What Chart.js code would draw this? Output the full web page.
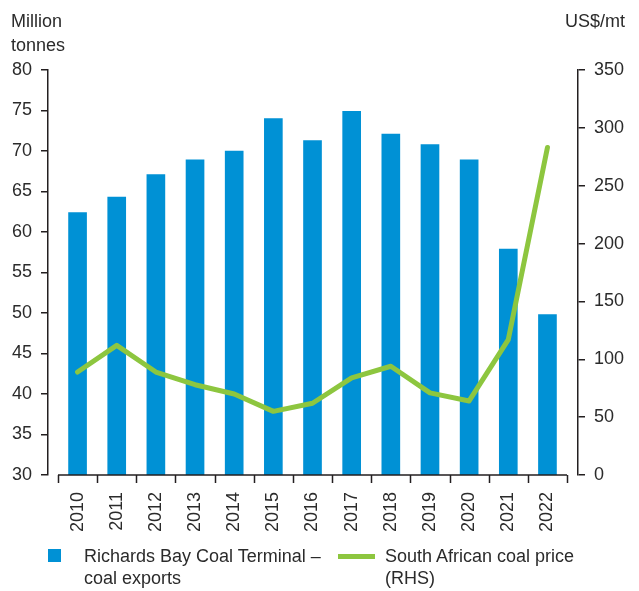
<!DOCTYPE html>
<html>
<head>
<meta charset="utf-8">
<script src="https://cdn.jsdelivr.net/npm/chart.js@4.4.1/dist/chart.umd.min.js"></script>
<style>
    body { margin: 0; background: #fff; }
    #wrap { position: relative; width: 639px; height: 591px; font-family: "Liberation Sans", Arial, sans-serif; color: #2b2b2b; }
    #wrap canvas { position: absolute; left: 0; top: 0; }
    .lbl { position: absolute; font-size: 18px; line-height: 24px; white-space: nowrap; }
    .legend-text { position: absolute; font-size: 18px; line-height: 22px; white-space: nowrap; }
    .swatch-bar { position: absolute; width: 13px; height: 13px; background: #0091d5; }
    .swatch-line { position: absolute; width: 37px; height: 5px; background: #8dc63f; }
</style>
</head>
<body>
<div id="wrap">
    <canvas id="coalChart" width="639" height="591"></canvas>
    <div class="lbl" style="left:11px; top:9px;">Million<br>tonnes</div>
    <div class="lbl" style="right:14px; top:9px;">US$/mt</div>

    <div class="swatch-bar" style="left:48px; top:549px;"></div>
    <div class="legend-text" style="left:84px; top:545px;">Richards Bay Coal Terminal –<br>coal exports</div>
    <div class="swatch-line" style="left:338px; top:554px;"></div>
    <div class="legend-text" style="left:385px; top:545px;">South African coal price<br>(RHS)</div>
</div>

<script>
// Data
const years = ['2010', '2011', '2012', '2013', '2014', '2015', '2016', '2017', '2018', '2019', '2020', '2021', '2022'];
const coalExports = [62.4, 64.3, 67.1, 68.9, 70.0, 74.0, 71.3, 74.9, 72.1, 70.8, 68.9, 57.9, 49.8]; // million tonnes
const coalPrice = [89, 112, 89, 78, 70, 55, 62, 84, 94, 71, 64, 117, 283]; // US$/mt (RHS)

const TEXT_COLOR = '#2b2b2b';
const AXIS_COLOR = '#231f20';
const FONT = { family: '"Liberation Sans", Arial, sans-serif', size: 18 };

// x axis line + boundary tick marks, only across the category span
const categoryAxisPlugin = {
    id: 'categoryAxis',
    afterDraw(chart) {
        const x = chart.scales.x;
        const bottom = chart.chartArea.bottom;
        const ctx = chart.ctx;
        ctx.save();
        ctx.strokeStyle = AXIS_COLOR;
        ctx.lineWidth = 1.5;
        ctx.beginPath();
        ctx.moveTo(x.getPixelForValue(-0.5), bottom);
        ctx.lineTo(x.getPixelForValue(years.length - 0.5), bottom);
        for (let i = 0; i <= years.length; i++) {
            const px = Math.round(x.getPixelForValue(i - 0.5)) + 0.5;
            ctx.moveTo(px, bottom);
            ctx.lineTo(px, bottom + 8);
        }
        ctx.stroke();
        ctx.restore();
    }
};

function initChart() {
    const ctx = document.getElementById('coalChart');

    new Chart(ctx, {
        type: 'bar',
        data: {
            datasets: [{
                type: 'line',
                label: 'South African coal price (RHS)',
                data: coalPrice.map((v, i) => ({ x: i, y: v })),
                yAxisID: 'y1',
                borderColor: '#8dc63f',
                borderWidth: 5,
                borderCapStyle: 'round',
                borderJoinStyle: 'round',
                pointRadius: 0,
                tension: 0,
                order: 0
            }, {
                label: 'Richards Bay Coal Terminal – coal exports',
                data: coalExports.map((v, i) => ({ x: i, y: v })),
                yAxisID: 'y',
                backgroundColor: '#0091d5',
                barThickness: 18,
                order: 1
            }]
        },
        options: {
            responsive: false,
            animation: false,
            layout: { padding: { top: 70, left: 0, right: 0, bottom: 0 } },
            plugins: {
                legend: { display: false },
                tooltip: { enabled: false }
            },
            scales: {
                x: {
                    type: 'linear',
                    offset: false,
                    min: -0.755,
                    max: years.length - 0.5 + 0.28,
                    afterBuildTicks: (scale) => {
                        scale.ticks = years.map((_, i) => ({ value: i }));
                    },
                    afterFit: (scale) => { scale.height = 116; },
                    grid: { display: false, drawTicks: false, offset: false },
                    border: { display: false },
                    ticks: {
                        autoSkip: false,
                        minRotation: 90,
                        maxRotation: 90,
                        padding: 17,
                        color: TEXT_COLOR,
                        font: FONT,
                        callback: (v) => years[v]
                    }
                },
                y: {
                    position: 'left',
                    min: 30,
                    max: 80,
                    afterFit: (scale) => { scale.width = 48; },
                    grid: { drawOnChartArea: false, tickLength: 7, color: AXIS_COLOR, lineWidth: 1.5 },
                    border: { display: true, color: AXIS_COLOR, width: 1.5 },
                    ticks: { stepSize: 5, padding: 9, color: TEXT_COLOR, font: FONT }
                },
                y1: {
                    position: 'right',
                    min: 0,
                    max: 350,
                    afterFit: (scale) => { scale.width = 61; },
                    grid: { drawOnChartArea: false, tickLength: 7, color: AXIS_COLOR, lineWidth: 1.5 },
                    border: { display: true, color: AXIS_COLOR, width: 1.5 },
                    ticks: { stepSize: 50, padding: 9, color: TEXT_COLOR, font: FONT }
                }
            }
        },
        plugins: [categoryAxisPlugin]
    });
}

initChart();
</script>
</body>
</html>
